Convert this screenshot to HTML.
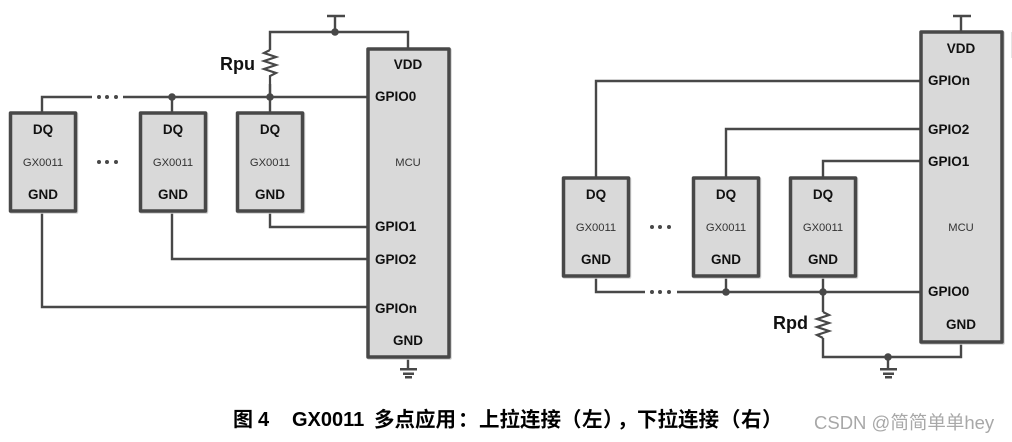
<!DOCTYPE html>
<html><head><meta charset="utf-8">
<style>
html,body{margin:0;padding:0;background:#fff}
svg{display:block}
text{font-family:"Liberation Sans","Noto Sans CJK SC",sans-serif;fill:#111}
.b{font-weight:bold;font-size:13.5px;text-anchor:middle}
.l{font-weight:bold;font-size:13.5px}
.s{font-size:11.2px;text-anchor:middle;fill:#333}
.r{font-weight:bold;font-size:18px}
.box{fill:#d9d9d9;stroke:#484848;stroke-width:3.5;stroke-linejoin:round;filter:drop-shadow(1px 1px 0 #d0d0d0)}
.w{fill:none;stroke:#484848;stroke-width:2.4}
.z{fill:none;stroke:#484848;stroke-width:2.2;stroke-linejoin:miter}
.d{fill:#484848}
.c{font-weight:bold;fill:#000}
.k{font-weight:bold;fill:#000;font-size:20.500px}
</style></head>
<body>
<svg width="1012" height="442" viewBox="0 0 1012 442" xmlns="http://www.w3.org/2000/svg">
<!-- LEFT wires -->
<path class="w" d="M42 113V97H92M123 97H368M172 97V113M270 113V84M270 50V32H408V49M335 32V16M327 16H345"/>
<path class="z" d="M270 50l-6 3 12 4-12 4 12 4-12 4 12 4-6 3V97"/>
<path class="w" d="M270 211V227H368M172 211V259H368M42 211V307H368M408 357V369"/>
<path class="d" d="M400 368h17v2.500h-17zM403 372.500h11v2.500h-11zM405 376h7v2.500h-7z"/>
<circle class="d" cx="172" cy="97" r="3.800"/><circle class="d" cx="270" cy="97" r="3.800"/><circle class="d" cx="335" cy="32" r="3.800"/>
<circle class="d" cx="99" cy="97" r="2"/><circle class="d" cx="107" cy="97" r="2"/><circle class="d" cx="116" cy="97" r="2"/>
<circle class="d" cx="99" cy="162" r="2"/><circle class="d" cx="107" cy="162" r="2"/><circle class="d" cx="116" cy="162" r="2"/>
<circle class="d" cx="393" cy="276" r="2"/><circle class="d" cx="393" cy="284" r="2"/><circle class="d" cx="393" cy="292" r="2"/>
<!-- LEFT boxes -->
<rect class="box" x="10.500" y="113" width="65" height="98"/>
<rect class="box" x="140.500" y="113" width="65" height="98"/>
<rect class="box" x="237.500" y="113" width="65" height="98"/>
<rect class="box" x="368" y="49" width="81" height="308"/>
<text class="b" x="43" y="134">DQ</text><text class="s" x="43" y="166">GX0011</text><text class="b" x="43" y="199">GND</text>
<text class="b" x="173" y="134">DQ</text><text class="s" x="173" y="166">GX0011</text><text class="b" x="173" y="199">GND</text>
<text class="b" x="270" y="134">DQ</text><text class="s" x="270" y="166">GX0011</text><text class="b" x="270" y="199">GND</text>
<text class="b" x="408" y="69">VDD</text>
<text class="l" x="375" y="101">GPIO0</text>
<text class="s" x="408" y="166">MCU</text>
<text class="l" x="375" y="231">GPIO1</text>
<text class="l" x="375" y="264">GPIO2</text>
<text class="l" x="375" y="313">GPIOn</text>
<text class="b" x="408" y="345">GND</text>
<text class="r" x="220" y="70">Rpu</text>
<!-- RIGHT wires -->
<path class="w" d="M596 178V81H921M726 178V129H921M823 178V161H921M596 276V292H645M677 292H921M726 276V292M823 276V312M823 338V357H961V342M888 357V369M961 32V16M953 16H971"/>
<path class="z" d="M823 312l6 3-12 4 12 4-12 4 12 4-12 4 6 3"/>
<path class="d" d="M880 368h17v2.500h-17zM883 372.500h11v2.500h-11zM885 376h7v2.500h-7z"/>
<circle class="d" cx="726" cy="292" r="3.800"/><circle class="d" cx="823" cy="292" r="3.800"/><circle class="d" cx="888" cy="357" r="3.800"/>
<circle class="d" cx="652" cy="292" r="2"/><circle class="d" cx="660" cy="292" r="2"/><circle class="d" cx="669" cy="292" r="2"/>
<circle class="d" cx="652" cy="227" r="2"/><circle class="d" cx="660" cy="227" r="2"/><circle class="d" cx="669" cy="227" r="2"/>
<circle class="d" cx="945" cy="97" r="2"/><circle class="d" cx="945" cy="105" r="2"/><circle class="d" cx="945" cy="113" r="2"/>
<!-- RIGHT boxes -->
<rect class="box" x="563.500" y="178" width="65" height="98"/>
<rect class="box" x="693.500" y="178" width="65" height="98"/>
<rect class="box" x="790.500" y="178" width="65" height="98"/>
<rect class="box" x="921" y="32" width="81" height="310"/>
<text class="b" x="596" y="199">DQ</text><text class="s" x="596" y="231">GX0011</text><text class="b" x="596" y="264">GND</text>
<text class="b" x="726" y="199">DQ</text><text class="s" x="726" y="231">GX0011</text><text class="b" x="726" y="264">GND</text>
<text class="b" x="823" y="199">DQ</text><text class="s" x="823" y="231">GX0011</text><text class="b" x="823" y="264">GND</text>
<text class="b" x="961" y="53">VDD</text>
<text class="l" x="928" y="85">GPIOn</text>
<text class="l" x="928" y="134">GPIO2</text>
<text class="l" x="928" y="166">GPIO1</text>
<text class="s" x="961" y="231">MCU</text>
<text class="l" x="928" y="296">GPIO0</text>
<text class="b" x="961" y="329">GND</text>
<text class="r" x="773" y="329">Rpd</text>
<rect x="1011" y="32" width="1" height="26" fill="#e5e5e5"/>
<!-- Caption -->
<text class="c" x="233" y="426" font-size="20">图</text>
<text class="c" x="258" y="426" font-size="20">4</text>
<text class="c" x="292" y="426" font-size="20">GX0011</text>
<text class="k" x="374" y="426.500">多点应用</text>
<text class="k" x="458" y="426.500">：</text>
<text class="k" x="479" y="426.500">上拉连接</text>
<text class="k" x="561" y="426.500">（</text>
<text class="k" x="582" y="426.500">左</text>
<text class="k" x="603" y="426.500">）</text>
<text class="k" x="617" y="426.500">，</text>
<text class="k" x="637" y="426.500">下拉连接</text>
<text class="k" x="720" y="426.500">（</text>
<text class="k" x="741" y="426.500">右</text>
<text class="k" x="762" y="426.500">）</text>
<text x="814" y="429" style="font-size:18.500px;fill:#a8a8a8">CSDN @简简单单hey</text>
</svg>
</body></html>
